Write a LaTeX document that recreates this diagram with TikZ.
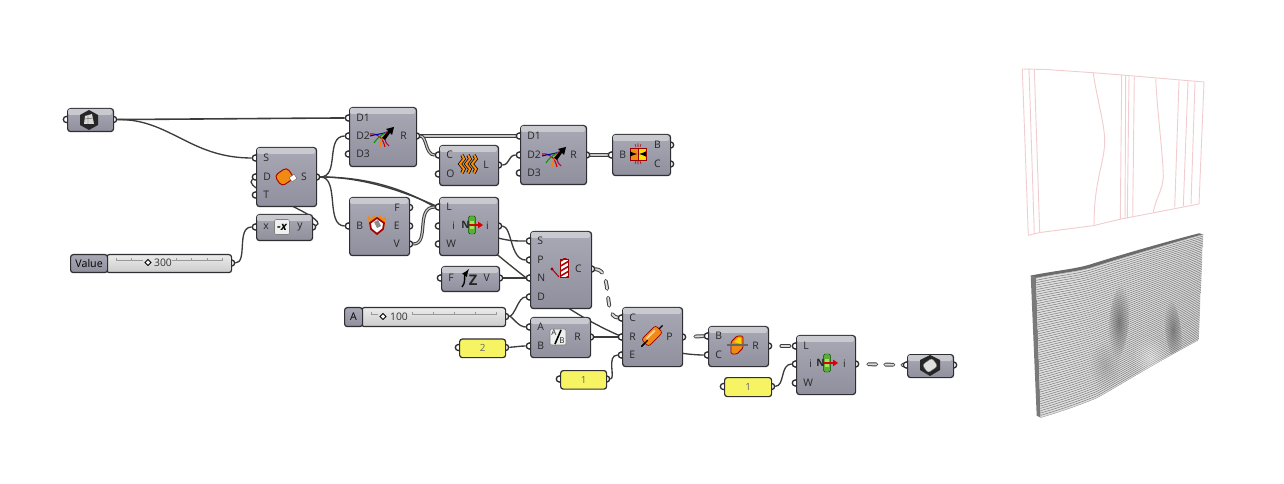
\documentclass[tikz,border=0pt]{standalone}
\usepackage{fontspec}
\setmainfont{Open Sans}
\usetikzlibrary{fadings,calc}
\tikzfading[name=softblob,inner color=transparent!0,outer color=transparent!100]
\definecolor{wd}{HTML}{3C3C3C}
\definecolor{bodyT}{HTML}{A9A9B6}
\definecolor{bodyB}{HTML}{8F8F9D}
\definecolor{bandc}{HTML}{C9C9D0}
\definecolor{edgec}{HTML}{2E2E33}
\definecolor{panelc}{HTML}{F6F463}
\definecolor{pink}{HTML}{F2CDD0}
\definecolor{orng}{HTML}{F08A12}
\definecolor{lgreen}{HTML}{58B030}
\definecolor{lgreenc}{HTML}{A8E060}
\pgfdeclarelayer{wires}\pgfdeclarelayer{ports}
\pgfsetlayers{wires,ports,main}
\tikzset{
 comp/.style={draw=edgec,line width=.9pt,rounded corners=2.2pt,anchor=north west,inner sep=0,top color=bodyT,bottom color=bodyB},
 band/.style={bandc,rounded corners=1.5pt},
 portc/.style={circle,draw=edgec,fill=white,line width=1pt,inner sep=0,minimum size=4.6pt},
 lab/.style={font=\fontsize{7.8}{8}\selectfont,text=black!85,inner sep=0},
 wire/.style={draw=wd,line width=1pt},
 listw/.style={draw=wd,double=black!22,double distance=.9pt,line width=.75pt},
 dashw/.style={draw=wd,line width=2.9pt,line cap=round,dash pattern=on 6pt off 6.75pt,dash phase=#1,
   postaction={draw=black!14,line width=1.4pt,line cap=round,dash pattern=on 6pt off 6.75pt,dash phase=#1}},
 dashw/.default=0pt,
 pinkl/.style={draw=pink,line width=.7pt},
 stripe/.style={draw=black!50,line width=.42pt},
 panel/.style={draw=edgec,line width=.9pt,rounded corners=2pt,anchor=north west,fill=panelc,inner sep=0,font=\fontsize{7.4}{8}\selectfont,text=black!60},
 slidetrack/.style={draw=edgec,line width=.9pt,rounded corners=2pt,anchor=north west,inner sep=0,top color=black!8,bottom color=black!20},
 slidehead/.style={draw=edgec,line width=.9pt,rounded corners=2pt,anchor=north west,inner sep=0,top color=bodyT,bottom color=bodyB,font=\fontsize{8}{8}\selectfont},
 sval/.style={font=\fontsize{7.8}{8}\selectfont,text=black!80,inner sep=0},
}
% box: name x y w h
\newcommand{\ghbox}[5]{%
 \node[comp,minimum width=#4*.75pt,minimum height=#5*.75pt] (#1) at (#2,#3) {};
 \fill[band] (#2+1,#3+1) rectangle (#2+#4-1,#3+7);}
% left pin: name x y label
\newcommand{\pinl}[4]{%
 \begin{pgfonlayer}{ports}\node[portc] (#1) at (#2-.6,#3) {};\end{pgfonlayer}
 \node[lab,anchor=west] (#1t) at (#2+7,#3) {#4};}
% right pin: name x y label
\newcommand{\pinr}[4]{%
 \begin{pgfonlayer}{ports}\node[portc] (#1) at (#2+.6,#3) {};\end{pgfonlayer}
 \node[lab,anchor=east] (#1t) at (#2-9,#3) {#4};}
\newcommand{\barepinl}[3]{\begin{pgfonlayer}{ports}\node[portc] (#1) at (#2-.6,#3) {};\end{pgfonlayer}}
\newcommand{\barepinr}[3]{\begin{pgfonlayer}{ports}\node[portc] (#1) at (#2+.6,#3) {};\end{pgfonlayer}}
% icons
\newcommand{\iconmerge}[2]{\begin{scope}[shift={(#1,#2)}]
 \draw[red!80!black,line width=.8pt] (-13,-3) .. controls (-4,-4) and (0,2) .. (2,10);
 \draw[blue!70!black,line width=.8pt] (-13,-1) .. controls (-6,-3) and (0,-3) .. (4,-5);
 \draw[green!60!black,line width=.8pt] (-9,6) .. controls (-6,1) and (-2,-2) .. (4,-5);
 \draw[orange,line width=.8pt] (-3,10) .. controls (-3,4) and (0,0) .. (4,-5);
 \draw[purple,line width=.8pt] (6,9) .. controls (1,5) and (1,0) .. (4,-5);
 \fill[black] (-1,1) -- (5,-6) -- (3,-8) -- (11,-10) -- (9,-2) -- (7,-4) -- (2,3) -- cycle;
 \end{scope}}
\newcommand{\iconlist}[2]{\begin{scope}[shift={(#1,#2)}]
 \fill[lgreen,draw=green!30!black,line width=.35pt,rounded corners=1pt] (-3.3,-9) rectangle (3.3,9);
 \fill[lgreenc] (-2.4,-4) rectangle (2.4,4);
 \node[lab,font=\fontsize{7.6}{8}\bfseries\selectfont] (#1n) at (-6.5,0) {N};
 \draw[red!85!black,line width=1.5pt] (-3,0) -- (7,0);
 \fill[red!85!black] (6,-3.4) -- (11,0) -- (6,3.4) -- cycle;
 \end{scope}}
\begin{document}
\begin{tikzpicture}[x=.75pt,y=-.75pt]
\useasboundingbox (0,0) rectangle (1284,484);

% ---------- components ----------
\ghbox{ga}{67}{108}{46}{23}
\barepinl{gaI}{67}{119.5}\barepinr{gaO}{113}{119.5}
\fill[black!85] (89,110) -- (98,115) -- (98,125) -- (89,130) -- (80,125) -- (80,115) -- cycle;
\fill[black!15] (85,116) -- (92,114) -- (94,124) -- (84,124) -- cycle;
\draw[black!70,line width=.3pt] (88,115) -- (88,124) (85,119) -- (93,118);

\ghbox{sw}{256}{147}{60}{59}
\pinl{swS}{256}{158}{S}\pinl{swD}{256}{177}{D}\pinl{swT}{256}{195}{T}\pinr{swO}{316}{177}{S}
\begin{scope}[shift={(285,177)},rotate=35]
 \fill[orng,draw=red!65!black,line width=.7pt,rounded corners=3pt] (-8,-7) rectangle (7,6);
 \fill[white,draw=black!60,line width=.3pt] (3,3) rectangle (9,8);
\end{scope}

\ghbox{me}{349}{107}{67}{59}
\pinl{meA}{349}{118}{D1}\pinl{meB}{349}{136}{D2}\pinl{meC}{349}{154}{D3}\pinr{meR}{416}{136}{R}
\iconmerge{383}{137}

\ghbox{br}{349}{197}{60}{58}
\pinl{brB}{349}{226}{B}\pinr{brF}{409}{207.5}{F}\pinr{brE}{409}{226}{E}\pinr{brV}{409}{244}{V}
\begin{scope}[shift={(377,225)}]
 \fill[orng] (-9,-9) -- (-6,-6) -- (-3,-10) -- (0,-7) -- (3,-10) -- (6,-6) -- (9,-9) -- (8,0) -- (-8,0) -- cycle;
 \draw[red!65!black,line width=1.3pt,fill=white] (0,-7) -- (7,-2) -- (6,4) -- (0,9) -- (-6,4) -- (-7,-2) -- cycle;
 \fill[black!45] (-3,-3) -- (1,-5) -- (4,1) -- (0,3) -- cycle;
\end{scope}

\ghbox{ng}{256}{214}{56}{26}
\pinl{ngX}{256}{227}{x}\pinr{ngY}{312}{227}{y}
\node[draw=black!50,fill=black!6,rounded corners=1.5pt,minimum size=15*.75pt,inner sep=0,font=\fontsize{8.5}{8}\bfseries\itshape\selectfont] (ngi) at (282,227) {-x};

\node[slidetrack,minimum width=125*.75pt,minimum height=18*.75pt] (vt) at (106,254) {};
\node[slidehead,minimum width=37*.75pt,minimum height=18*.75pt] (vh) at (70,254) {Value};
\barepinr{vO}{231}{263}
\draw[black!40,line width=.3pt] (116,260) -- (143,260) (172,260) -- (222,260);
\foreach \q in {116,131,176,191,207,222} \draw[black!40,line width=.3pt] (\q,258) -- (\q,261);
\draw[black,fill=white,line width=.7pt] (148,259.5) -- (151,262.5) -- (148,265.5) -- (145,262.5) -- cycle;
\node[sval] (vv) at (163,262.5) {300};

\ghbox{co}{439}{145}{59}{40}
\pinl{coC}{439}{155}{C}\pinl{coO}{439}{174}{O}\pinr{coL}{498}{165}{L}
\begin{scope}[shift={(468,164)}]
 \foreach \q in {-6,0,6}{
 \draw[black,line width=2.6pt] (\q,-9) -- (\q+2,-5) -- (\q-2,0) -- (\q+2,5) -- (\q,9);
 \draw[orange!90!yellow,line width=1.5pt] (\q,-9) -- (\q+2,-5) -- (\q-2,0) -- (\q+2,5) -- (\q,9);}
\end{scope}

\ghbox{mf}{520}{125}{66}{59}
\pinl{mfA}{520}{136}{D1}\pinl{mfB}{520}{155}{D2}\pinl{mfC}{520}{173}{D3}\pinr{mfR}{586}{155}{R}
\iconmerge{555}{157}

\ghbox{bb}{612}{134}{58}{41}
\pinl{bbB}{612}{155}{B}\pinr{bbO}{670}{145}{B}\pinr{bbP}{670}{164}{C}
\begin{scope}[shift={(638,154)}]
 \fill[orng,draw=red!60!black,line width=.4pt] (-8,-6) rectangle (0,6);
 \fill[yellow!85!orange,draw=red!60!black,line width=.4pt] (0,-6) rectangle (8,6);
 \draw[black,line width=.8pt,-latex] (-8,0) -- (-1,0);
 \draw[black,line width=.8pt,-latex] (8,0) -- (1,0);
 \draw[red!70!black,line width=.4pt] (-3,-10) -- (-2,-7) (0,-10.5) -- (0,-7) (3,-10) -- (2,-7) (-3,10) -- (-2,7) (0,10.5) -- (0,7) (3,10) -- (2,7);
\end{scope}

\ghbox{li}{439}{197}{59}{58}
\pinl{liL}{439}{207}{L}\pinl{liI}{445}{226}{i}\pinl{liW}{439}{244}{W}\pinr{liO}{498}{226}{i}
\begin{pgfonlayer}{ports}\node[portc] (liIp) at (438.4,226) {};\end{pgfonlayer}
\iconlist{472}{225}

\ghbox{fv}{441}{266}{58}{25}
\pinl{fvF}{441}{278}{F}\pinr{fvV}{499}{278}{V}
\draw[black,line width=1pt,-latex] (462,287) .. controls (466,283) and (464,276) .. (469,269);
\node[lab,font=\fontsize{11}{11}\bfseries\selectfont] (fvz) at (473,280) {Z};

\ghbox{sp}{530}{231}{61}{77}
\pinl{spS}{530}{241}{S}\pinl{spP}{530}{260}{P}\pinl{spN}{530}{278}{N}\pinl{spD}{530}{297}{D}\pinr{spC}{591}{269}{C}
\begin{scope}[shift={(564,268)}]
 \fill[white,draw=red!60!black,line width=.4pt] (-4,-9) rectangle (4,9);
 \clip (-4,-9) rectangle (4,9);
 \foreach \q in {-16,-11,-6,-1,4,9} \draw[red!70!black,line width=1.2pt] (-5,\q+5) -- (5,\q-1);
\end{scope}
\draw[red!60!black,line width=.7pt] (552,269) -- (559,277);
\fill[red!60!black] (552,269) circle (1.6);

\node[slidetrack,minimum width=144*.75pt,minimum height=19*.75pt] (at) at (361,307) {};
\node[slidehead,minimum width=18*.75pt,minimum height=19*.75pt] (ah) at (344,307) {A};
\barepinr{aO}{505}{316.5}
\draw[black!40,line width=.3pt] (371,314) -- (378,314) (412,314) -- (496,314);
\foreach \q in {371,412,433,454,475,496} \draw[black!40,line width=.3pt] (\q,312) -- (\q,315);
\draw[black,fill=white,line width=.7pt] (383,313.5) -- (386,316.5) -- (383,319.5) -- (380,316.5) -- cycle;
\node[sval] (av) at (399,316.5) {100};

\ghbox{ab}{530}{317}{60}{40}
\pinl{abA}{530}{327}{A}\pinl{abB}{530}{346}{B}\pinr{abR}{590}{337}{R}
\node[draw=black!50,fill=black!6,rounded corners=1.5pt,minimum size=16*.75pt,inner sep=0] (abi) at (558,337) {};
\node[lab,font=\fontsize{6}{6}\selectfont] (abA2) at (554,333) {A};
\node[lab,font=\fontsize{6}{6}\selectfont] (abB2) at (562,341) {B};
\draw[black,line width=1.2pt] (561,330) -- (555,344);

\node[panel,minimum width=46*.75pt,minimum height=18.5*.75pt] (p2) at (459,338.5) {2};
\barepinl{p2I}{459}{347.5}\barepinr{p2O}{505}{347.5}
\node[panel,minimum width=46*.75pt,minimum height=18.5*.75pt] (p1) at (560,370) {1};
\barepinl{p1I}{560}{379}\barepinr{p1O}{606}{379}

\ghbox{pi}{622}{307}{60}{59}
\pinl{piC}{622}{318}{C}\pinl{piR}{622}{337}{R}\pinl{piE}{622}{355}{E}\pinr{piP}{682}{337}{P}
\begin{scope}[shift={(652,336)},rotate=45]
 \draw[black,line width=1pt] (-15,0) -- (15,0);
 \fill[orng,draw=red!60!black,line width=.5pt,rounded corners=2pt] (-10,-5) rectangle (10,5);
 \fill[white,opacity=.6] (-6,-3) rectangle (6,-1);
 \draw[black,line width=1pt] (-15,0) -- (-6,0);
\end{scope}

\ghbox{bc}{708}{326}{60}{40}
\pinl{bcB}{708}{336}{B}\pinl{bcC}{708}{355}{C}\pinr{bcR}{768}{346}{R}
\begin{scope}[shift={(737,345)}]
 \fill[orng,draw=red!60!black,line width=.6pt,rounded corners=1pt] (-6,-3) -- (0,-9) -- (6,-9) -- (6,3) -- (0,9) -- (-6,9) -- cycle;
 \fill[yellow!70!orange] (-3,-3) -- (1,-7) -- (4,-7) -- (4,-1) -- cycle;
 \draw[black!60,line width=1pt] (-10,0) -- (11,0);
\end{scope}

\ghbox{lj}{796}{335}{59}{59}
\pinl{ljL}{796}{346}{L}\pinl{ljI}{802}{364}{i}\pinl{ljW}{796}{383}{W}\pinr{ljO}{855}{364}{i}
\begin{pgfonlayer}{ports}\node[portc] (ljIp) at (795.4,364) {};\end{pgfonlayer}
\iconlist{827}{363}

\node[panel,minimum width=47*.75pt,minimum height=19*.75pt] (p3) at (724,377) {1};
\barepinl{p3I}{724}{386.5}\barepinr{p3O}{771}{386.5}

\ghbox{gb}{907}{354}{46}{23}
\barepinl{gbI}{907}{365}\barepinr{gbO}{953}{365}
\fill[black!85] (930,355) -- (940,360) -- (940,370) -- (930,376) -- (920,370) -- (920,360) -- cycle;
\begin{scope}[shift={(930,365.5)},rotate=35]
 \fill[black!12,draw=black!55,line width=.3pt,rounded corners=2pt] (-6,-5) rectangle (6,5);
\end{scope}

% ---------- wires ----------
\begin{pgfonlayer}{wires}
\draw[wire,line width=1.2pt] (gaO) to[out=0,in=180,looseness=.3] (meA);
\draw[wire] (gaO) .. controls (170,119) and (190,158) .. (swS);
\draw[wire] (swO) .. controls (340,177) and (325,136) .. (meB);
\draw[wire] (swO) .. controls (340,177) and (325,226) .. (brB);
\draw[wire] (swO) .. controls (380,177) and (440,205) .. (498,238) .. controls (510,241) and (515,241) .. (spS);
\draw[wire] (swO) .. controls (370,177) and (420,190) .. (470,232) .. controls (530,282) and (580,325) .. (650,347) .. controls (680,354) and (695,355) .. (bcC);
\draw[wire] (ngY) .. controls (325,222) and (300,210) .. (292,206);
\draw[wire] (292,206) .. controls (275,197) and (244,186) .. (swD);
\draw[wire] (vO) .. controls (248,263) and (236,227) .. (ngX);
\draw[listw] (brV) .. controls (430,244) and (415,207) .. (liL);
\draw[listw] (meR) to[out=0,in=180,looseness=.2] (mfA);
\draw[listw] (meR) .. controls (427,136) and (425,155) .. (coC);
\draw[wire] (coL) .. controls (510,165) and (508,155) .. (mfB);
\draw[listw] (mfR) -- (bbB);
\draw[wire] (liO) .. controls (512,226) and (510,260) .. (spP);
\draw[wire] (fvV) -- (spN);
\draw[wire] (aO) .. controls (515,316) and (518,297) .. (spD);
\draw[wire] (aO) .. controls (512,316) and (518,327) .. (abA);
\draw[wire] (p2O) .. controls (515,347) and (520,346) .. (abB);
\draw[wire] (abR) -- (piR);
\draw[wire] (p1O) .. controls (616,379) and (606,355) .. (piE);
\draw[wire] (p3O) .. controls (785,386) and (780,364) .. (ljIp);
\draw[dashw] (spC) .. controls (614,270) and (602,316) .. (piC);
\draw[dashw=6pt] (piP) -- (bcB);
\draw[dashw=6pt] (bcR) -- (ljL);
\draw[dashw=6pt] (ljO) -- (gbI);
\end{pgfonlayer}

% ---------- pink wireframe ----------
\draw[pinkl] (1022.3,69) -- (1046,69.5) -- (1093,72.7) -- (1122,75) -- (1204,82) -- (1199,204) -- (1155,212.5) -- (1121,219) -- (1093,225.7) -- (1040,232.5) -- (1028.3,235.3) -- cycle;
\draw[pinkl] (1029,69) -- (1034.3,234);
\draw[pinkl] (1034.3,69) -- (1039.7,232.7);
\draw[pinkl] (1093.3,72.7) .. controls (1096,95) and (1105,125) .. (1104.7,142) .. controls (1104,165) and (1094,180) .. (1094,225.7);
\draw[pinkl] (1121.7,75) -- (1120.3,219.3);
\draw[pinkl] (1125.7,75.7) -- (1125,218.7);
\draw[pinkl] (1129,76) -- (1127.3,218.3);
\draw[pinkl] (1134.3,76.7) -- (1132.7,217);
\draw[pinkl] (1155.7,78.3) .. controls (1157,110) and (1163,155) .. (1163.3,176) .. controls (1163,190) and (1155,200) .. (1153.3,212.3);
\draw[pinkl] (1179,80.7) -- (1174.7,207.7);
\draw[pinkl] (1188,81.3) -- (1183.3,206);
\draw[pinkl] (1195,81.7) -- (1191,204);

% ---------- ribbed wall ----------
\fill[black!58] (1030.7,275.5) .. controls (1060,270) and (1075,269) .. (1090,264.5) .. controls (1115,256.5) and (1165,242) .. (1199,233.3) -- (1203.3,234.3) .. controls (1165,245) and (1115,260) .. (1090,268) .. controls (1075,272) and (1060,273) .. (1036,278) -- cycle;
\fill[black!52] (1030.7,275.5) -- (1036,278) -- (1040.7,417.7) -- (1036.7,415.7) -- cycle;
\fill[black!12] (1036,278) .. controls (1060,273) and (1075,272) .. (1090,268) .. controls (1115,260) and (1165,245) .. (1203.3,234.3) -- (1198.7,340) .. controls (1150,366) and (1110,391) .. (1097,398) .. controls (1080,405) and (1060,412) .. (1040.7,417.7) -- cycle;
\begin{scope}
 \clip (1036,278) .. controls (1060,273) and (1075,272) .. (1090,268) .. controls (1115,260) and (1165,245) .. (1203.3,234.3) -- (1198.7,340) .. controls (1150,366) and (1110,391) .. (1097,398) .. controls (1080,405) and (1060,412) .. (1040.7,417.7) -- cycle;
 \foreach \t in {0,1,...,60}{
  \pgfmathsetmacro{\u}{\t/60}
  \pgfmathsetmacro{\ax}{1036+\u*4.7}\pgfmathsetmacro{\ay}{278+\u*139.7}
  \pgfmathsetmacro{\by}{273+\u*139}
  \pgfmathsetmacro{\cx}{1075+\u*5}\pgfmathsetmacro{\cy}{272+\u*133}
  \pgfmathsetmacro{\dx}{1090+\u*7}\pgfmathsetmacro{\dy}{268+\u*130}
  \pgfmathsetmacro{\ex}{1115-\u*5}\pgfmathsetmacro{\ey}{260+\u*131}
  \pgfmathsetmacro{\fx}{1165-\u*15}\pgfmathsetmacro{\fy}{245+\u*121}
  \pgfmathsetmacro{\gx}{1203.3-\u*4.6}\pgfmathsetmacro{\gy}{234.3+\u*105.7}
  \draw[stripe] (\ax,\ay) .. controls (1060,\by) and (\cx,\cy) .. (\dx,\dy) .. controls (\ex,\ey) and (\fx,\fy) .. (\gx,\gy);
 }
 \fill[black!60,opacity=.8,path fading=softblob,rotate around={-6:(1119,322)}] (1119,322) ellipse (10 and 38);
 \fill[black!60,opacity=.75,path fading=softblob,rotate around={8:(1173,330)}] (1173,330) ellipse (8 and 32);
 \fill[black!45,opacity=.45,path fading=softblob] (1105,365) ellipse (16 and 24);
 \fill[white,opacity=.4,path fading=softblob] (1150,358) ellipse (18 and 22);
\end{scope}
\end{tikzpicture}
\end{document}
